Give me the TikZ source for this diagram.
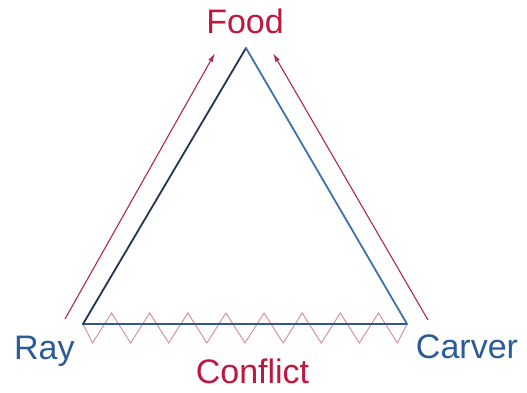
\documentclass[tikz,border=0pt]{standalone}
\usepackage{fontspec}
\setmainfont{Liberation Sans}
\usetikzlibrary{arrows.meta}
\definecolor{labelred}{HTML}{C0173F}
\definecolor{labelblue}{HTML}{2C5C98}
\definecolor{navyside}{HTML}{23344F}
\definecolor{blueside}{HTML}{3D72AA}
\definecolor{baseside}{HTML}{35578A}
\definecolor{arrowred}{HTML}{B0284A}
\definecolor{zigpink}{HTML}{D7899A}
\tikzset{
  lbl/.style={inner sep=0pt, font=\fontsize{34}{40}\selectfont},
  redlbl/.style={lbl, text=labelred},
  bluelbl/.style={lbl, text=labelblue},
  side/.style={line width=1.8pt, line cap=round, line join=round},
  flow/.style={arrowred, line width=1.1pt, -{Latex[length=9pt,width=5pt]}},
  zig/.style={zigpink, line width=0.9pt, line join=miter}
}
\begin{document}
\begin{tikzpicture}[x=1pt,y=-1pt]
\useasboundingbox (0,0) rectangle (527,392);
\fill[white] (0,0) rectangle (527,392);
% triangle vertices
\coordinate (A) at (246,48);
\coordinate (L) at (83,324);
\coordinate (R) at (407,324);
% zigzag (conflict)
\pgfmathsetmacro{\q}{(407-83)/34}
\draw[zig] (L)
  \foreach \i in {0,...,16} {
    -- ({83+(2*\i+1)*\q}, {mod(\i,2)==0 ? 343 : 313})
  } -- (R);
% sides
\draw[side, baseside] (L) -- (R);
\draw[side, navyside] (L) -- (A);
\draw[side, blueside] (A) -- (R);
% arrows toward Food
\coordinate (ls) at (65,319);
\coordinate (le) at (215,53);
\coordinate (rs) at (428,320);
\coordinate (re) at (273,53);
\draw[flow] (ls) -- (le);
\draw[flow] (rs) -- (re);
% labels
\node[redlbl, anchor=base] (food) at (245,33) {Food};
\node[bluelbl, anchor=base west] (ray) at (14,359) {Ray};
\node[bluelbl, anchor=base] (carver) at (467,358) {Carver};
\node[redlbl, anchor=base] (conflict) at (252.5,383) {Conflict};
\end{tikzpicture}
\end{document}
